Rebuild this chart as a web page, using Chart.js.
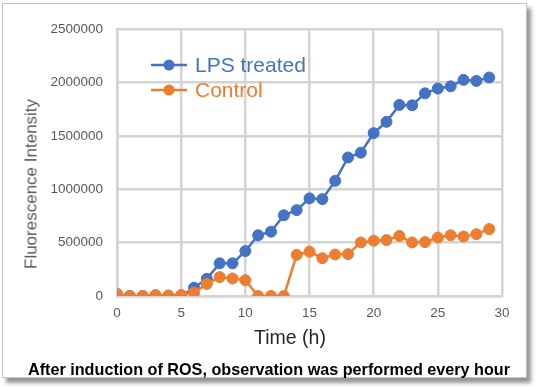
<!DOCTYPE html>
<html>
<head>
<meta charset="utf-8">
<script src="https://cdn.jsdelivr.net/npm/chart.js@4"></script>
<style>
  body { margin: 0; background: #fff; font-family: 'Liberation Sans', Arial, sans-serif; }
  #wrap { position: relative; width: 538px; height: 388px; overflow: hidden; }
  #card {
    position: absolute; left: 2px; top: 3px; width: 523px; height: 373px;
    border: 1px solid #c4c4c4; background: #fff;
    box-shadow: 4px 5px 4px rgba(0,0,0,0.42);
  }
  #chart { position: absolute; left: 0; top: 0; }
  .lbl { position: absolute; white-space: nowrap; line-height: 1; }
  #ytitle { left: 31px; top: 184px; font-size: 17px; color: #595959;
            transform: translate(-50%, -50%) rotate(-90deg); }
  #xtitle { left: 290px; top: 338px; font-size: 19.5px; color: #262626;
            transform: translate(-50%, -50%); }
  #caption { left: 269px; top: 369px; font-size: 16.2px; font-weight: bold; color: #000;
             transform: translate(-50%, -50%); }
</style>
</head>
<body>
<div id="wrap">
  <div id="card"></div>
  <canvas id="chart" width="538" height="388"></canvas>
  <div class="lbl" id="ytitle">Fluorescence Intensity</div>
  <div class="lbl" id="xtitle">Time (h)</div>
  <div class="lbl" id="caption">After induction of ROS, observation was performed every hour</div>
</div>
<script>
// hours 0..29
var hours = [0,1,2,3,4,5,6,7,8,9,10,11,12,13,14,15,16,17,18,19,20,21,22,23,24,25,26,27,28,29];

var lpsTreated = [0, 0, 0, 0, 0, 0, 77000, 161000, 306000, 306000,
  421000, 569000, 602000, 756000, 804000, 914000, 907000, 1078000, 1297000, 1342000,
  1525000, 1631000, 1789000, 1786000, 1898000, 1943000, 1963000, 2024000, 2014000, 2046000];

var control = [22000, 0, 0, 10000, 5000, 10000, 32000, 113000, 177000, 164000,
  148000, 0, 0, 0, 386000, 415000, 354000, 389000, 392000, 502000,
  518000, 524000, 563000, 502000, 505000, 547000, 569000, 557000, 579000, 627000];

var seriesNames = ['LPS treated', 'Control'];
var seriesColors = ['#4472C4', '#ED7D31'];

var GRID = '#d4d4d4';
var FONT = "'Liberation Sans', Arial, sans-serif";

function toPoints(ys) {
  return hours.map(function(h, i) { return { x: h, y: ys[i] }; });
}

function makeSet(idx, ys, order) {
  return {
    label: seriesNames[idx],
    data: toPoints(ys),
    borderColor: seriesColors[idx],
    backgroundColor: seriesColors[idx],
    borderWidth: 2.5,
    pointRadius: 5.5,
    pointBorderWidth: 1,
    pointBackgroundColor: seriesColors[idx],
    pointBorderColor: seriesColors[idx],
    tension: 0,
    order: order
  };
}

// legend drawn inside the plot, text in series colour
var insideLegend = {
  id: 'insideLegend',
  afterDatasetsDraw: function(chart) {
    var ctx = chart.ctx;
    var rows = [65, 90];
    ctx.save();
    chart.data.datasets.forEach(function(ds, i) {
      var y = rows[i];
      ctx.strokeStyle = ds.borderColor;
      ctx.lineWidth = 2.5;
      ctx.beginPath();
      ctx.moveTo(151, y);
      ctx.lineTo(187, y);
      ctx.stroke();
      ctx.fillStyle = ds.borderColor;
      ctx.beginPath();
      ctx.arc(169, y, 5.5, 0, Math.PI * 2);
      ctx.fill();
      ctx.font = '21px ' + FONT;
      ctx.textBaseline = 'middle';
      ctx.fillText(ds.label, 195, y + 1);
    });
    ctx.restore();
  }
};

new Chart(document.getElementById('chart'), {
  type: 'line',
  data: {
    datasets: [makeSet(0, lpsTreated, 2), makeSet(1, control, 1)]
  },
  options: {
    responsive: false,
    animation: false,
    layout: { padding: { left: 0, top: 29, right: 36, bottom: 0 } },
    plugins: { legend: { display: false }, tooltip: { enabled: false } },
    scales: {
      x: {
        type: 'linear',
        min: 0, max: 30,
        afterFit: function(s) { s.height = 92; },
        ticks: { stepSize: 5, padding: 9, color: '#595959', font: { family: FONT, size: 13.5 } },
        grid: { color: GRID, lineWidth: 2.5, drawTicks: false },
        border: { color: GRID, width: 2.5 }
      },
      y: {
        min: 0, max: 2500000,
        afterFit: function(s) { s.width = 117; },
        ticks: {
          stepSize: 500000, padding: 14, color: '#595959',
          font: { family: FONT, size: 13.5 },
          callback: function(v) { return String(v); }
        },
        grid: { color: GRID, lineWidth: 2.5, drawTicks: false },
        border: { color: GRID, width: 2.5 }
      }
    }
  },
  plugins: [insideLegend]
});
</script>
</body>
</html>
